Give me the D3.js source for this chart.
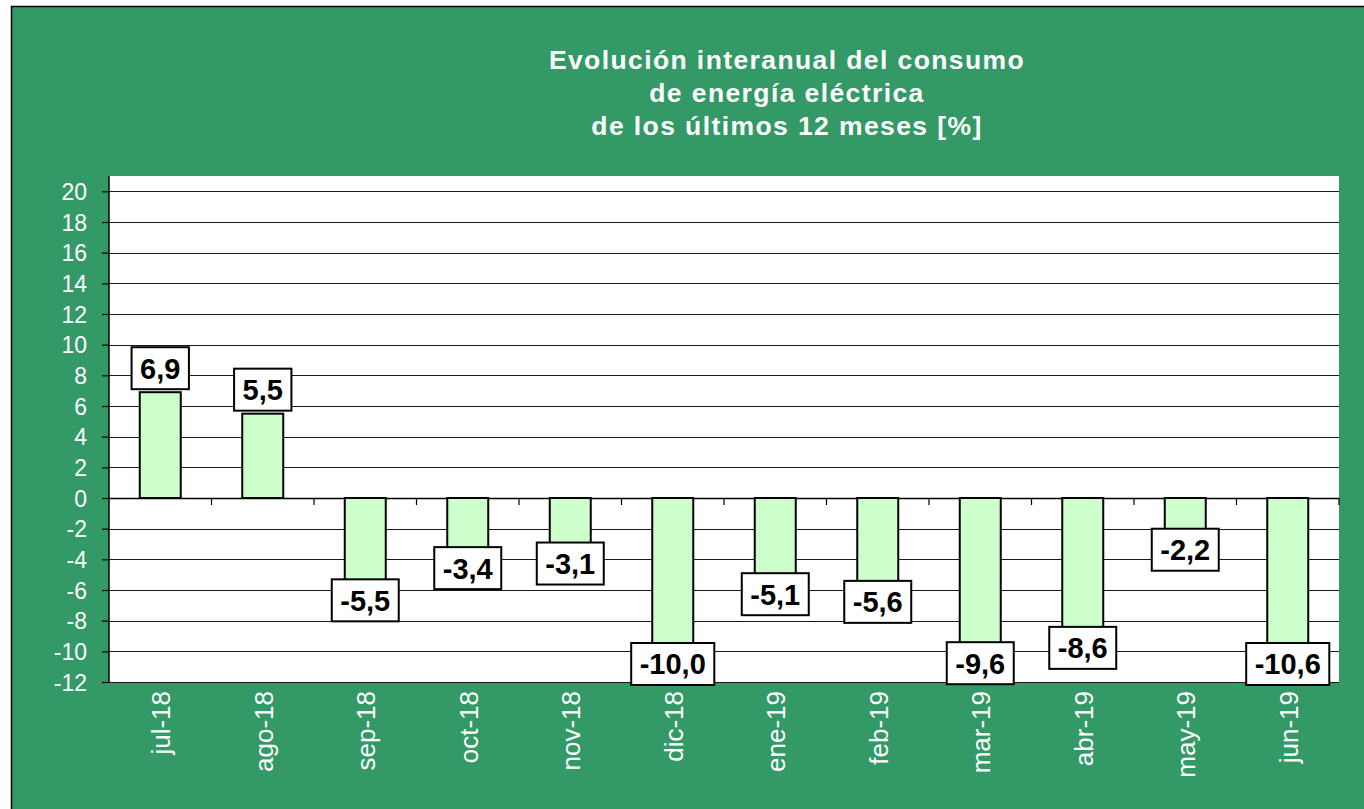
<!DOCTYPE html>
<html>
<head>
<meta charset="utf-8">
<script src="https://cdn.jsdelivr.net/npm/d3@7"></script>
<style>
  html, body { margin: 0; padding: 0; background: #ffffff; }
  svg { display: block; }
</style>
</head>
<body>
<svg id="chart" width="1364" height="809"></svg>
<script>
// ---- data ----
const categories = ["jul-18", "ago-18", "sep-18", "oct-18", "nov-18", "dic-18",
                    "ene-19", "feb-19", "mar-19", "abr-19", "may-19", "jun-19"];
const values = [6.9, 5.5, -5.5, -3.4, -3.1, -10.0, -5.1, -5.6, -9.6, -8.6, -2.2, -10.6];
const yTicks = [-12, -10, -8, -6, -4, -2, 0, 2, 4, 6, 8, 10, 12, 14, 16, 18, 20];
const titleLines = ["Evolución interanual del consumo", "de energía eléctrica", "de los últimos 12 meses [%]"];

// ---- layout ----
const W = 1364, H = 809;
const plot = { left: 109, right: 1339, top: 176, bottom: 682 };
const green = "#339966";
const barFill = "#CCFFCC";
const font = "Arial, 'Liberation Sans', Helvetica, sans-serif";

const svg = d3.select("#chart");

// background / frame
svg.append("rect").attr("x", 0).attr("y", 0).attr("width", W).attr("height", H).attr("fill", "#ffffff");
svg.append("rect").attr("x", 11.5).attr("y", 6.5).attr("width", W).attr("height", H)
  .attr("fill", green).attr("stroke", "#000").attr("stroke-width", 1.5);

// plot area
svg.append("rect").attr("x", plot.left).attr("y", plot.top)
  .attr("width", plot.right - plot.left).attr("height", plot.bottom - plot.top)
  .attr("fill", "#ffffff");

// scales
const y = d3.scaleLinear().domain([-12, 21]).range([plot.bottom, plot.top]);
const x = d3.scaleBand().domain(categories).range([plot.left, plot.right]).paddingInner(0).paddingOuter(0);
const barW = x.bandwidth() * 0.4;

// gridlines
svg.append("g").selectAll("line").data(yTicks).join("line")
  .attr("x1", plot.left).attr("x2", plot.right)
  .attr("y1", d => Math.round(y(d)) + 0.5).attr("y2", d => Math.round(y(d)) + 0.5)
  .attr("stroke", "#1a1a1a").attr("stroke-width", 1.2);

// y axis
const yAxis = d3.axisLeft(y).tickValues(yTicks).tickSize(7).tickPadding(15)
  .tickFormat(d => String(d));
const gy = svg.append("g").attr("transform", `translate(${plot.left},0)`).call(yAxis);
gy.select(".domain").remove();
gy.append("line").attr("x1", 0).attr("x2", 0).attr("y1", plot.top).attr("y2", plot.bottom)
  .attr("stroke", "#000").attr("stroke-width", 1.5);
gy.selectAll(".tick line").attr("stroke", "#000").attr("stroke-width", 1.2);
gy.selectAll(".tick text").attr("fill", "#ffffff").attr("font-family", font)
  .attr("font-size", 23).attr("dy", "0.35em");

// category axis at zero (ticks between categories)
const boundaries = d3.range(1, categories.length + 1).map(i => plot.left + i * x.step());
const gx = svg.append("g");
gx.append("line").attr("x1", plot.left).attr("x2", plot.right)
  .attr("y1", Math.round(y(0)) + 0.5).attr("y2", Math.round(y(0)) + 0.5)
  .attr("stroke", "#000").attr("stroke-width", 1.5);
gx.selectAll("line.tk").data(boundaries).join("line").attr("class", "tk")
  .attr("x1", d => d).attr("x2", d => d)
  .attr("y1", y(0)).attr("y2", y(0) + 7)
  .attr("stroke", "#000").attr("stroke-width", 1.2);

// bars
svg.append("g").selectAll("rect").data(values).join("rect")
  .attr("x", (d, i) => x(categories[i]) + (x.bandwidth() - barW) / 2)
  .attr("y", d => y(Math.max(0, d)))
  .attr("width", barW)
  .attr("height", d => Math.abs(y(d) - y(0)))
  .attr("fill", barFill).attr("stroke", "#000").attr("stroke-width", 2);

// x labels (rotated)
svg.append("g").selectAll("text").data(categories).join("text")
  .attr("transform", d => `translate(${x(d) + x.bandwidth() / 2 + 10},${plot.bottom + 9}) rotate(-90)`)
  .attr("text-anchor", "end")
  .attr("fill", "#ffffff").attr("font-family", font).attr("font-size", 26)
  .text(d => d);

// data labels
const fmt = v => v.toFixed(1).replace(".", ",");
const lg = svg.append("g");
values.forEach((v, i) => {
  const cx = x(categories[i]) + x.bandwidth() / 2;
  let cy = v >= 0 ? y(v) - 24 : Math.min(y(v) + 18, plot.bottom - 18);
  const g = lg.append("g");
  const t = g.append("text")
    .attr("x", cx).attr("y", cy).attr("dy", "0.36em")
    .attr("text-anchor", "middle")
    .attr("font-family", font).attr("font-weight", "bold").attr("font-size", 29)
    .attr("fill", "#000")
    .text(fmt(v));
  const tw = t.node().getComputedTextLength();
  g.insert("rect", "text")
    .attr("x", cx - tw / 2 - 8.5).attr("y", cy - 21)
    .attr("width", tw + 17).attr("height", 42)
    .attr("fill", "#ffffff").attr("stroke", "#000").attr("stroke-width", 2);
});

// title
svg.append("g").selectAll("text").data(titleLines).join("text")
  .attr("x", 787).attr("y", (d, i) => 68.5 + i * 33)
  .attr("text-anchor", "middle")
  .attr("fill", "#ffffff").attr("font-family", font).attr("font-weight", "bold").attr("font-size", 26.5)
  .attr("letter-spacing", 1.4)
  .text(d => d);
</script>
</body>
</html>
